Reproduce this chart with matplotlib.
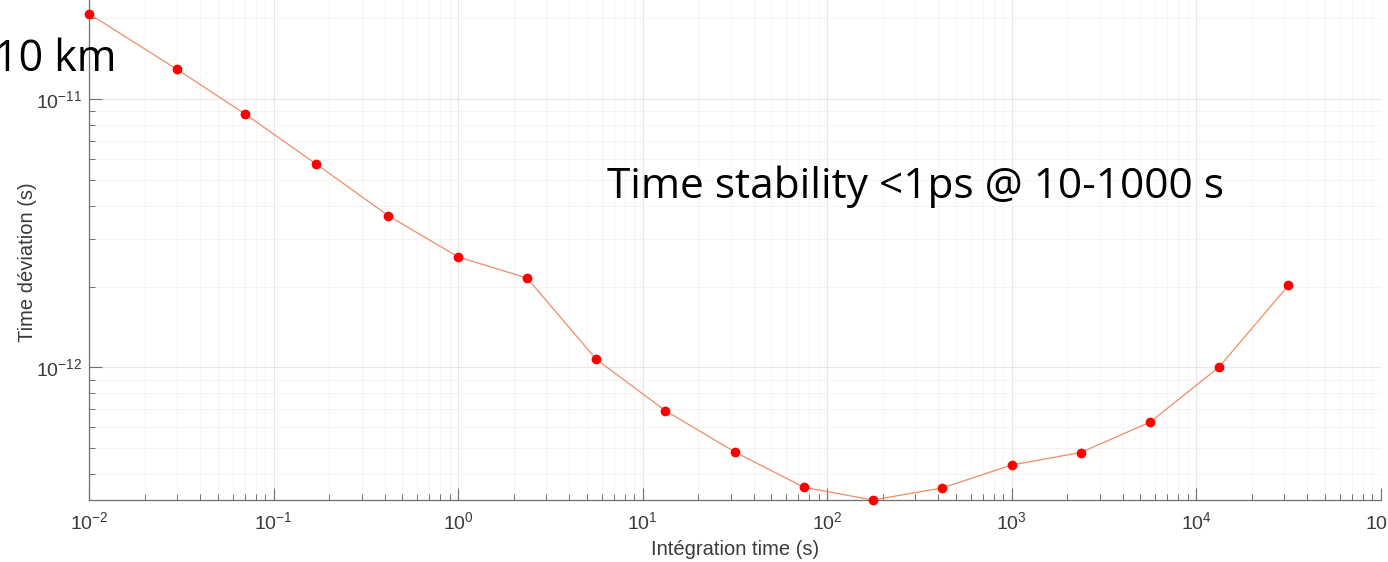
import matplotlib
matplotlib.use("Agg")
import matplotlib.pyplot as plt
from matplotlib.ticker import LogLocator, NullFormatter, LogFormatterMathtext

plt.rcParams["font.family"] = ["Liberation Sans", "DejaVu Sans"]
plt.rcParams["axes.unicode_minus"] = False
plt.rcParams["mathtext.fontset"] = "custom"
plt.rcParams["mathtext.rm"] = "Liberation Sans"
plt.rcParams["mathtext.it"] = "Liberation Sans:italic"
plt.rcParams["mathtext.bf"] = "Liberation Sans:bold"

# Data
tau = [0.01, 0.03, 0.07, 0.17, 0.42, 1.0, 2.37, 5.62, 13.3, 31.7, 75, 177,
       422, 1000, 2370, 5630, 13300, 31700]
tdev = [2.08e-11, 1.29e-11, 8.8e-12, 5.73e-12, 3.67e-12, 2.58e-12, 2.15e-12,
        1.07e-12, 6.89e-13, 4.83e-13, 3.57e-13, 3.20e-13, 3.55e-13, 4.32e-13,
        4.81e-13, 6.24e-13, 1.00e-12, 2.02e-12]

xlim = (1e-2, 1e5)
ylim = (3.20e-13, 2.34e-11)
xlabel = "Intégration time (s)"
ylabel = "Time déviation (s)"
annot_main = "Time stability <1ps @ 10-1000 s"
annot_left = "10 km"

W, H = 1388, 562
fig = plt.figure(figsize=(W / 100, H / 100), dpi=100)
ax_w = 1380.5 - 89
ax = fig.add_axes([89 / W, (H - 500) / H, ax_w / W, 500 / H])

ax.plot(tau, tdev, color="#f08c64", lw=0.9, marker="o", ms=6,
        mfc="#ff0000", mec="#ff0000", zorder=3, clip_on=False)

ax.set_xscale("log")
ax.set_yscale("log")
ax.set_xlim(*xlim)
ax.set_ylim(*ylim)

ax.xaxis.set_major_locator(LogLocator(base=10, numticks=20))
ax.xaxis.set_minor_locator(LogLocator(base=10, subs=range(2, 10), numticks=100))
ax.yaxis.set_major_locator(LogLocator(base=10, numticks=20))
ax.yaxis.set_minor_locator(LogLocator(base=10, subs=range(2, 10), numticks=100))
ax.xaxis.set_minor_formatter(NullFormatter())
ax.yaxis.set_minor_formatter(NullFormatter())
ax.xaxis.set_major_formatter(LogFormatterMathtext())
ax.yaxis.set_major_formatter(LogFormatterMathtext())

axcol = "#707070"
for s in ["top", "right"]:
    ax.spines[s].set_visible(False)
for s in ["left", "bottom"]:
    ax.spines[s].set_color(axcol)
    ax.spines[s].set_linewidth(0.9)

ax.tick_params(which="major", direction="in", length=9, width=0.8,
               color=axcol, labelsize=14, labelcolor="#3a3a3a")
ax.tick_params(axis="x", which="major", pad=8)
ax.tick_params(axis="y", which="major", pad=5)
ax.tick_params(which="minor", direction="in", length=4.5, width=0.7,
               color=axcol)

ax.grid(True, which="major", color="#e6e6e6", lw=0.8)
ax.grid(True, which="minor", color="#f3f3f3", lw=0.6)
ax.set_axisbelow(True)

ax.set_xlabel(xlabel, fontsize=14.5, color="#3a3a3a")
ax.set_ylabel(ylabel, fontsize=14.5, color="#3a3a3a")
ax.xaxis.set_label_coords((735 - 89) / ax_w, (500 - 540) / 500)
ax.yaxis.set_label_coords((37 - 89) / ax_w, (500 - 262) / 500)

fig.text(607 / W, 1 - 187 / H, annot_main, fontsize=30.5, family="Open Sans",
         ha="left", va="center", color="black")
fig.text(116 / W, 1 - 60 / H, annot_left, fontsize=31, family="Open Sans",
         ha="right", va="center", color="black")

fig.savefig("out.png", dpi=100, facecolor="white")
